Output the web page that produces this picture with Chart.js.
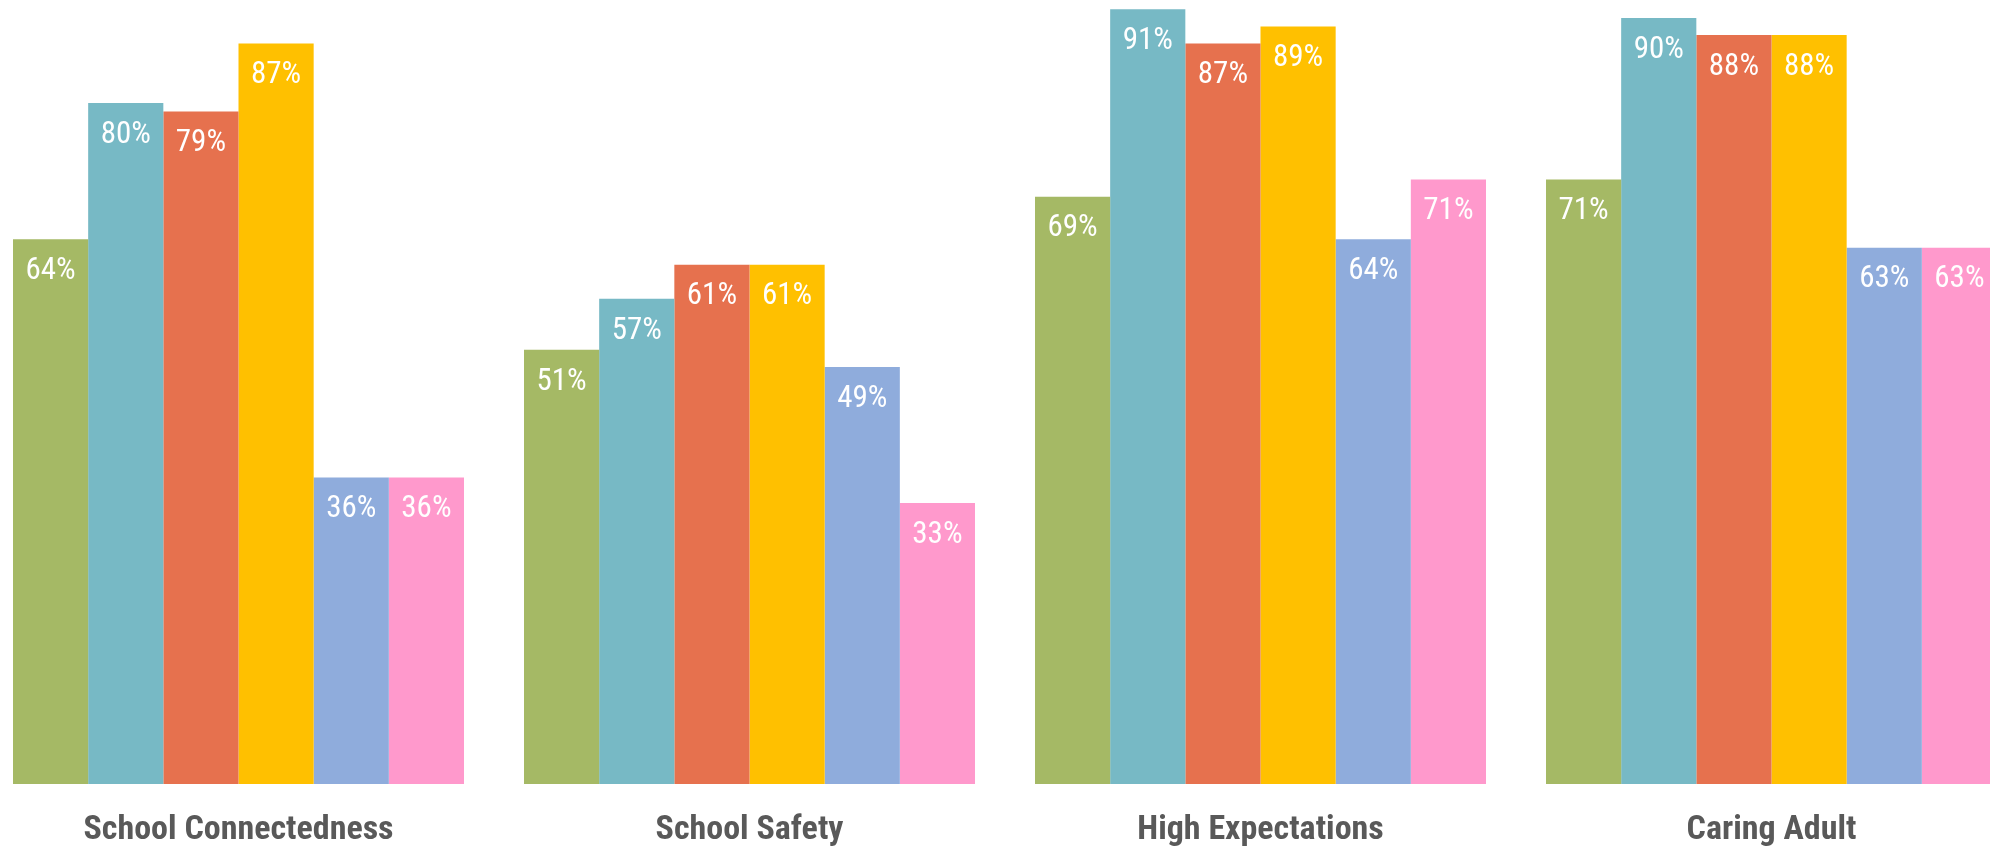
<!DOCTYPE html>
<html>
<head>
<meta charset="utf-8">
<script src="https://cdn.jsdelivr.net/npm/chart.js@4/dist/chart.umd.min.js"></script>
<style>
  html, body { margin: 0; padding: 0; background: #fff; overflow: hidden; }
  /* the original chart is cropped on the left and right edges */
  #wrap { position: absolute; left: -17px; top: 0; width: 2044px; height: 876px; }
</style>
</head>
<body>
<div id="wrap"><canvas id="chart"></canvas></div>
<script>
// categories and the six series (percent)
var categories = ['School Connectedness', 'School Safety', 'High Expectations', 'Caring Adult'];
var series1 = [64, 51, 69, 71];
var series2 = [80, 57, 91, 90];
var series3 = [79, 61, 87, 88];
var series4 = [87, 61, 89, 88];
var series5 = [36, 49, 64, 63];
var series6 = [36, 33, 71, 63];

var colors = ['#A5B965', '#77B9C5', '#E6714E', '#FFC000', '#8FACDC', '#FF99CC'];
var allSeries = [series1, series2, series3, series4, series5, series6];

// white value labels just under the top of each bar
var valueLabels = {
  id: 'valueLabels',
  afterDatasetsDraw: function (chart) {
    var ctx = chart.ctx;
    ctx.save();
    ctx.fillStyle = '#ffffff';
    ctx.font = 'condensed 31px Roboto';
    ctx.textAlign = 'center';
    ctx.textBaseline = 'middle';
    chart.data.datasets.forEach(function (ds, i) {
      chart.getDatasetMeta(i).data.forEach(function (bar, j) {
        ctx.fillText(ds.data[j] + '%', bar.x, bar.y + 32);
      });
    });
    ctx.restore();
  }
};

var data = {
  labels: categories,
  datasets: allSeries.map(function (vals, i) {
    return {
      label: 'Series ' + (i + 1),
      data: vals,
      backgroundColor: colors[i],
      borderWidth: 0,
      barPercentage: 1.0,
      categoryPercentage: 451 / 511
    };
  })
};

var ctx = document.getElementById('chart').getContext('2d');
var chart = new Chart(ctx, {
  type: 'bar',
  data: data,
  plugins: [valueLabels],
  options: {
    responsive: true,
    maintainAspectRatio: false,
    devicePixelRatio: 1,
    animation: false,
    layout: { padding: 0 },
    plugins: {
      legend: { display: false },
      tooltip: { enabled: false }
    },
    scales: {
      x: {
        grid: { display: false, drawTicks: false, tickLength: 0 },
        border: { display: false },
        ticks: {
          color: '#595959',
          padding: 26,
          font: { family: 'Roboto', size: 34, weight: 'bold condensed', lineHeight: '40px' }
        }
      },
      y: {
        display: false,
        min: 0,
        max: 92.1
      }
    }
  }
});
</script>
</body>
</html>
